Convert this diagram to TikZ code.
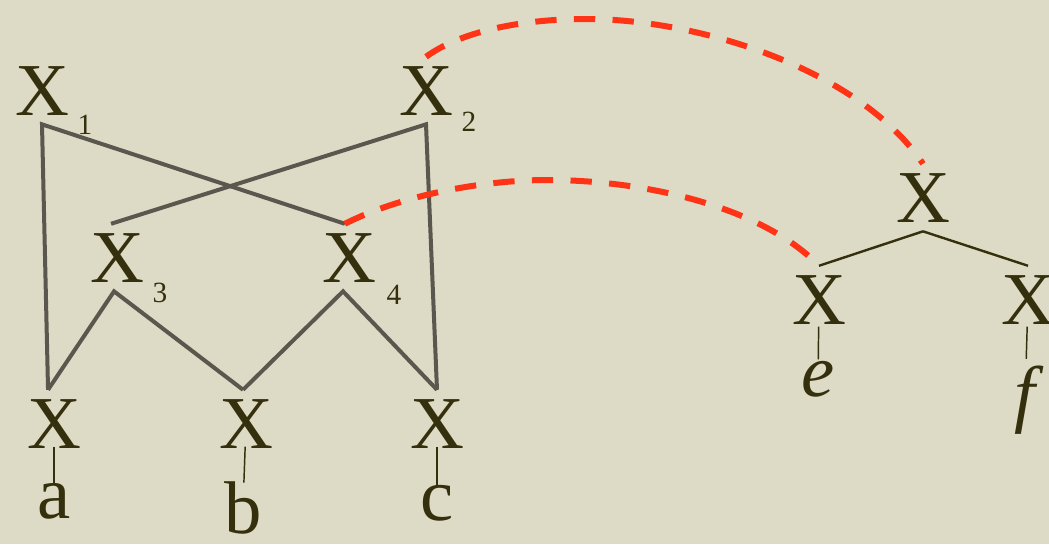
\documentclass[tikz,border=0pt]{standalone}
\usepackage{fontspec}
\setmainfont{Liberation Serif}
\usetikzlibrary{positioning}
\definecolor{paper}{RGB}{221,218,197}
\definecolor{ink}{RGB}{52,47,12}
\definecolor{wiregray}{RGB}{90,87,78}
\definecolor{linkred}{RGB}{255,52,22}
\newcommand{\catsize}{\fontsize{56}{56}\selectfont}
\newcommand{\subsize}{\fontsize{22}{22}\selectfont}

\begin{document}
\begin{tikzpicture}[x=0.75pt,y=-0.75pt,
  cat/.style={font=\catsize,text=ink,inner sep=0pt,outer sep=7pt,anchor=base},
  idx/.style={font=\subsize,text=ink,inner sep=0pt},
  wire/.style={draw=wiregray,line width=3pt,line join=miter},
  branch/.style={draw=ink,line width=1.8pt},
  stem/.style={draw=ink,line width=1.1pt,shorten <=-8pt,shorten >=-8pt},
  link/.style={draw=linkred,line width=4.5pt,dash pattern=on 16pt off 13pt}]
\fill[paper] (0,0) rectangle (1049,544);
\useasboundingbox (0,0) rectangle (1049,544);
% left chart: four categories over three words
\node[cat] (x1) at (42,115) {X};
\node[idx] (sub1) at (85,125) {1};
\node[cat] (x2) at (426,115) {X};
\node[idx] (sub2) at (469,122) {2};
\node[cat] (x3) at (117,282) {X};
\node[idx] (sub3) at (160,293) {3};
\node[cat] (x4) at (349,282) {X};
\node[idx] (sub4) at (394,295) {4};
\node[cat] (xa) at (54,448) {X};
\node[cat] (xb) at (246,448) {X};
\node[cat] (xc) at (437,448) {X};
\node[cat] (a) at (54,518) {a};
\node[cat] (b) at (243,533) {b};
\node[cat] (c) at (437,520) {c};
\draw[wire] (xa.100) -- (x1.south) -- (x4.97);
\draw[wire] (xc.north) -- (x2.south) -- (x3.100);
\draw[wire] (xa.100) -- (x3.-95) -- (xb.95);
\draw[wire] (xb.95) -- (x4.-100) -- (xc.north);
\draw[stem] (xa) -- (a);
\draw[stem] (xb) -- (b);
\draw[stem] (xc) -- (c);
% right tree
\node[cat] (rt) at (923,222) {X};
\node[cat] (rl) at (819,324) {X};
\node[cat] (rr) at (1028,324) {X};
\node[cat,font=\catsize\itshape] (e) at (818,396) {e};
\node[cat,font=\catsize\itshape] (f) at (1025,418) {f};
\draw[branch] (rt.south) -- (rl.north);
\draw[branch] (rt.south) -- (rr.north);
\draw[stem,shorten <=-5pt,shorten >=-6pt] (rl) -- (e);
\draw[stem,shorten <=-5pt,shorten >=-2pt] (rr) -- (f);
% dashed links between the two
\draw[link] (x2.north) .. controls (460,32) and (520,19) .. (586,19)
  .. controls (700,19) and (860,70) .. (rt.north);
\draw[link] (x4.97) .. controls (400,196) and (480,180) .. (548,180)
  .. controls (640,180) and (760,205) .. (rl.north);
\end{tikzpicture}
\end{document}
